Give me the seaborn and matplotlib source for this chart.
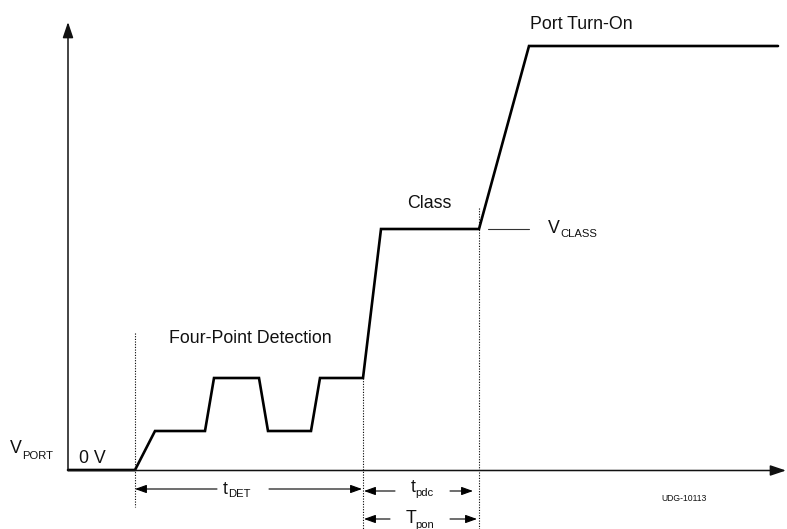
import matplotlib
matplotlib.use("Agg")
import matplotlib.pyplot as plt
import seaborn as sns
import pandas as pd

# ---- data (time and voltage in arbitrary diagram units) ----
time_pts = [0, 67, 87, 137, 146, 191, 200, 243, 252, 295, 313, 411, 461, 710]
volt_pts = [0, 0, 39, 39, 92, 92, 39, 39, 92, 92, 241, 241, 424, 424]
event_times = [67, 295, 411]          # detection start, detection end / class start, class end
v_class = 241
main_labels = ["Four-Point Detection", "Class", "Port Turn-On"]

sns.set_theme(style="white")
plt.rcParams["font.family"] = ["Liberation Sans", "DejaVu Sans"]

W, H = 787, 529
X0, Y0 = 68, 470   # origin in pixels
fig = plt.figure(figsize=(W / 100, H / 100), dpi=100)
ax = fig.add_axes([0, 0, 1, 1])
ax.set_xlim(-X0, W - X0)
ax.set_ylim(-(H - Y0), Y0)
ax.axis("off")


def P(px, py):
    """pixel position -> data coordinates"""
    return px - X0, Y0 - py


# axes with arrow heads
axis_arrow = dict(arrowstyle="-|>,head_length=0.95,head_width=0.32",
                  mutation_scale=10, lw=1.1, color="#111111",
                  shrinkA=0, shrinkB=0)
ax.annotate("", xy=P(68, 22), xytext=P(68, 470.5), arrowprops=axis_arrow,
            annotation_clip=False)
ax.annotate("", xy=P(786, 470.5), xytext=P(68, 470.5), arrowprops=axis_arrow,
            annotation_clip=False)

# waveform
df = pd.DataFrame({"t": time_pts, "v": volt_pts})
sns.lineplot(data=df, x="t", y="v", sort=False, estimator=None, ax=ax,
             color="black", lw=1.9, solid_joinstyle="miter")

# dotted event lines
dot = dict(color="black", lw=0.8, linestyle=(0, (1, 1.4)))
ax.plot([event_times[0]] * 2, [Y0 - 333, Y0 - 507], **dot)
ax.plot([event_times[1]] * 2, [Y0 - 378, Y0 - 529], **dot)
ax.plot([event_times[2]] * 2, [Y0 - 208, Y0 - 529], **dot)

# V_CLASS marker
ax.plot([488 - X0, 529 - X0], [v_class, v_class], color="#333333", lw=0.8)

fs_main, fs_sub = 12.8, 8.1
tk = dict(color="#111111")


def sub_label(px, base_py, main, sub, sub_dx, sub_py):
    ax.text(*P(px, base_py), main, fontsize=fs_main, ha="left", va="baseline", **tk)
    ax.text(*P(px + sub_dx, sub_py), sub, fontsize=fs_sub, ha="left", va="baseline", **tk)


ax.text(*P(169, 343), main_labels[0], fontsize=fs_main, ha="left", va="baseline", **tk)
ax.text(*P(407, 208), main_labels[1], fontsize=fs_main, ha="left", va="baseline", **tk)
ax.text(*P(530, 29), main_labels[2], fontsize=fs_main, ha="left", va="baseline", **tk)
ax.text(*P(79, 463), "0 V", fontsize=fs_main, ha="left", va="baseline", **tk)
ax.text(*P(661, 501), "UDG-10113", fontsize=6.2, ha="left", va="baseline", **tk)

sub_label(10, 453, "V", "PORT", 12, 459)
sub_label(548, 233, "V", "CLASS", 12, 237)
sub_label(223, 494, "t", "DET", 5, 497)
sub_label(411, 492, "t", "pdc", 4, 496)
sub_label(406, 523, "T", "pon", 9, 528)

# dimension arrows
arr = dict(arrowstyle="-|>,head_length=0.5,head_width=0.18", mutation_scale=14,
           lw=0.8, color="black", shrinkA=0, shrinkB=0)


def dim(x_tail, x_tip, py):
    ax.annotate("", xy=P(x_tip, py), xytext=P(x_tail, py), arrowprops=arr,
                annotation_clip=False)


dim(217, 135, 489)
dim(269, 362, 489)
dim(395, 364, 491)
dim(450, 473, 491)
dim(390, 364, 519)
dim(450, 477, 519)

fig.savefig("out.png", dpi=100)
